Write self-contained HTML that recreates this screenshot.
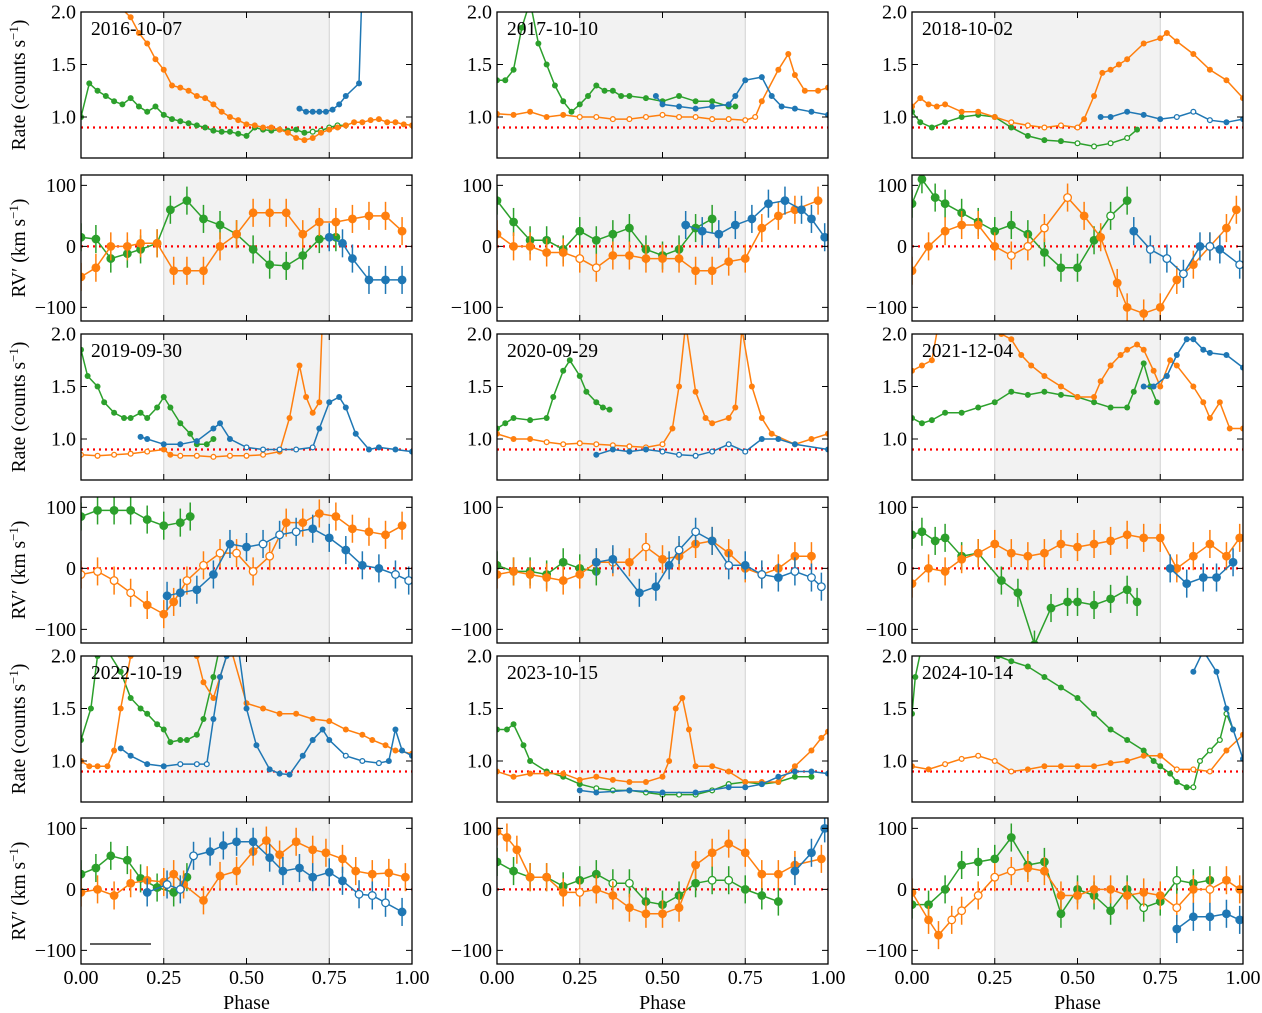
<!DOCTYPE html>
<html><head><meta charset="utf-8"><style>
html,body{margin:0;padding:0;background:#fff;}
svg{display:block;font-family:"Liberation Serif","DejaVu Serif",serif;}
</style></head><body>
<svg id="fig" width="1262" height="1013" viewBox="0 0 1262 1013" xmlns="http://www.w3.org/2000/svg"></svg>
<script>
const dates = ["2016-10-07","2017-10-10","2018-10-02","2019-09-30","2020-09-29","2021-12-04","2022-10-19","2023-10-15","2024-10-14"];

const rate0_g = [[0,1.0],[0.025,1.32],[0.05,1.25],[0.075,1.2],[0.1,1.15],[0.125,1.12],[0.15,1.18],[0.175,1.1],[0.2,1.05],[0.225,1.1],[0.25,1.02],[0.275,0.98],[0.3,0.96],[0.325,0.94],[0.35,0.92],[0.375,0.9],[0.4,0.87],[0.425,0.86],[0.45,0.86],[0.475,0.84],[0.5,0.82],[0.525,0.9],[0.55,0.88],[0.575,0.87],[0.6,0.88],[0.625,0.87],[0.65,0.88],[0.675,0.85],[0.7,0.86],[0.725,0.87],[0.75,0.9],[0.775,0.92],[0.8,0.92]];
const rate0_o = [[0.1,2.1],[0.15,1.95],[0.175,1.8],[0.2,1.7],[0.225,1.55],[0.25,1.45],[0.275,1.3],[0.3,1.28],[0.325,1.25],[0.35,1.2],[0.375,1.18],[0.4,1.12],[0.425,1.05],[0.45,1.0],[0.475,0.97],[0.5,0.93],[0.525,0.92],[0.55,0.9],[0.575,0.9],[0.6,0.88],[0.625,0.85],[0.65,0.8],[0.675,0.78],[0.7,0.8],[0.725,0.85],[0.75,0.88],[0.775,0.9],[0.8,0.92],[0.825,0.95],[0.85,0.95],[0.875,0.97],[0.9,0.98],[0.925,0.95],[0.95,0.95],[0.975,0.93],[1.0,0.92]];
const rate0_b = [[0.66,1.08],[0.68,1.05],[0.7,1.05],[0.72,1.05],[0.74,1.05],[0.76,1.07],[0.78,1.12],[0.8,1.2],[0.84,1.32],[0.85,2.3]];
const rv0_g = [[0,15],[0.045,12],[0.09,-20],[0.14,-12],[0.18,-5],[0.23,5],[0.27,60],[0.32,75],[0.37,45],[0.42,35],[0.47,20],[0.52,-5],[0.57,-30],[0.62,-32],[0.67,-15],[0.72,12],[0.77,15]];
const rv0_o = [[0,-50],[0.045,-35],[0.09,0],[0.14,0],[0.18,5],[0.23,5],[0.28,-40],[0.32,-40],[0.37,-40],[0.42,0],[0.47,20],[0.52,55],[0.57,55],[0.62,55],[0.67,20],[0.72,40],[0.77,40],[0.82,45],[0.87,50],[0.92,50],[0.97,25]];
const rv0_b = [[0.75,15],[0.79,5],[0.82,-20],[0.87,-55],[0.92,-55],[0.97,-55]];

const rate1_g = [[0,1.35],[0.025,1.35],[0.05,1.45],[0.075,1.85],[0.1,2.1],[0.125,1.7],[0.15,1.5],[0.175,1.3],[0.2,1.15],[0.225,1.05],[0.25,1.12],[0.275,1.2],[0.3,1.3],[0.325,1.25],[0.35,1.25],[0.375,1.2],[0.4,1.2],[0.45,1.18],[0.5,1.15],[0.55,1.2],[0.6,1.15],[0.65,1.15],[0.7,1.1],[0.72,1.1]];
const rate1_o = [[0,1.03],[0.05,1.02],[0.1,1.05],[0.15,1.0],[0.2,1.02],[0.25,1.0],[0.3,1.0],[0.35,0.98],[0.4,0.98],[0.45,1.0],[0.5,1.02],[0.55,1.0],[0.6,1.0],[0.65,0.98],[0.7,0.98],[0.75,0.97],[0.78,1.0],[0.8,1.15],[0.85,1.45],[0.88,1.6],[0.9,1.4],[0.93,1.25],[0.97,1.25],[1.0,1.28]];
const rate1_b = [[0.48,1.2],[0.5,1.12],[0.55,1.1],[0.6,1.08],[0.65,1.1],[0.7,1.12],[0.72,1.2],[0.75,1.35],[0.8,1.38],[0.83,1.2],[0.86,1.1],[0.9,1.08],[0.95,1.05],[1.0,1.02]];
const rv1_g = [[0,75],[0.05,40],[0.1,10],[0.15,10],[0.2,-5],[0.25,25],[0.3,10],[0.35,20],[0.4,30],[0.45,-5],[0.5,-15],[0.55,-5],[0.6,30],[0.65,45]];
const rv1_o = [[0,20],[0.05,0],[0.1,0],[0.15,-10],[0.2,-10],[0.25,-20],[0.3,-35],[0.35,-15],[0.4,-15],[0.45,-20],[0.5,-20],[0.55,-20],[0.6,-40],[0.65,-40],[0.7,-25],[0.75,-20],[0.8,30],[0.85,50],[0.9,60],[0.97,75]];
const rv1_b = [[0.57,35],[0.62,25],[0.67,20],[0.72,35],[0.77,45],[0.82,70],[0.87,75],[0.92,60],[0.95,45],[0.99,15]];

const rate2_o = [[0,1.1],[0.025,1.18],[0.05,1.12],[0.075,1.1],[0.1,1.12],[0.15,1.05],[0.2,1.05],[0.25,1.0],[0.3,0.95],[0.35,0.92],[0.4,0.9],[0.45,0.92],[0.5,0.9],[0.52,0.98],[0.55,1.2],[0.575,1.42],[0.6,1.45],[0.625,1.5],[0.65,1.55],[0.7,1.7],[0.75,1.75],[0.77,1.8],[0.8,1.72],[0.85,1.6],[0.9,1.45],[0.95,1.35],[1.0,1.18]];
const rate2_g = [[0,1.05],[0.025,0.95],[0.06,0.9],[0.1,0.95],[0.15,1.0],[0.2,1.02],[0.25,1.0],[0.3,0.9],[0.35,0.82],[0.4,0.78],[0.45,0.77],[0.5,0.75],[0.55,0.72],[0.6,0.75],[0.65,0.8],[0.68,0.88]];
const rate2_b = [[0.57,1.0],[0.6,1.0],[0.65,1.05],[0.7,1.02],[0.75,0.98],[0.8,1.0],[0.85,1.05],[0.9,0.97],[0.95,0.95],[1.0,0.98]];
const rv2_g = [[0,70],[0.03,110],[0.07,80],[0.1,70],[0.15,55],[0.2,40],[0.25,25],[0.3,35],[0.35,20],[0.4,-10],[0.45,-35],[0.5,-35],[0.55,10],[0.6,50],[0.65,75]];
const rv2_o = [[0,-40],[0.05,0],[0.1,25],[0.15,35],[0.2,35],[0.25,0],[0.3,-15],[0.35,0],[0.4,30],[0.47,80],[0.52,50],[0.57,15],[0.62,-60],[0.65,-100],[0.7,-110],[0.75,-100],[0.8,-55],[0.85,-30],[0.9,0],[0.95,30],[0.98,60]];
const rv2_b = [[0.67,25],[0.72,-5],[0.77,-20],[0.82,-45],[0.87,0],[0.9,0],[0.93,-5],[0.99,-30]];

const rate3_g = [[0,1.85],[0.02,1.6],[0.05,1.5],[0.07,1.35],[0.1,1.25],[0.13,1.2],[0.15,1.2],[0.18,1.25],[0.2,1.2],[0.23,1.3],[0.25,1.4],[0.27,1.3],[0.3,1.15],[0.33,1.05],[0.35,0.95],[0.38,0.95],[0.4,1.0]];
const rate3_o = [[0,0.85],[0.05,0.84],[0.1,0.85],[0.15,0.86],[0.2,0.88],[0.25,0.9],[0.27,0.85],[0.3,0.84],[0.35,0.84],[0.4,0.83],[0.45,0.84],[0.5,0.84],[0.55,0.85],[0.6,0.88],[0.63,1.2],[0.66,1.7],[0.68,1.4],[0.7,1.25],[0.72,1.35],[0.73,2.2]];
const rate3_b = [[0.18,1.02],[0.2,1.0],[0.25,0.95],[0.3,0.95],[0.35,0.98],[0.4,1.1],[0.42,1.15],[0.45,1.0],[0.5,0.92],[0.55,0.9],[0.6,0.9],[0.65,0.9],[0.7,0.92],[0.72,1.1],[0.75,1.35],[0.78,1.4],[0.8,1.3],[0.83,1.05],[0.87,0.9],[0.9,0.92],[0.95,0.9],[1.0,0.88]];
const rv3_g = [[0,85],[0.05,95],[0.1,95],[0.15,95],[0.2,80],[0.25,70],[0.3,75],[0.33,85]];
const rv3_o = [[0,-10],[0.05,-5],[0.1,-20],[0.15,-40],[0.2,-60],[0.25,-75],[0.28,-55],[0.32,-20],[0.37,5],[0.42,25],[0.47,25],[0.52,-5],[0.57,20],[0.62,75],[0.67,75],[0.72,90],[0.77,85],[0.82,65],[0.87,60],[0.92,55],[0.97,70]];
const rv3_b = [[0.26,-45],[0.3,-40],[0.35,-35],[0.4,-10],[0.45,40],[0.5,35],[0.55,40],[0.6,55],[0.65,60],[0.7,65],[0.75,50],[0.8,30],[0.85,5],[0.9,0],[0.95,-10],[0.99,-20]];

const rate4_g = [[0,1.1],[0.025,1.15],[0.05,1.2],[0.1,1.18],[0.15,1.2],[0.17,1.4],[0.2,1.65],[0.22,1.75],[0.25,1.6],[0.27,1.45],[0.3,1.35],[0.32,1.3],[0.34,1.28]];
const rate4_o = [[0,1.05],[0.05,1.0],[0.1,1.0],[0.15,0.97],[0.2,0.95],[0.25,0.96],[0.3,0.95],[0.35,0.94],[0.4,0.93],[0.45,0.92],[0.5,0.95],[0.53,1.1],[0.55,1.5],[0.57,2.1],[0.6,1.45],[0.63,1.2],[0.65,1.15],[0.7,1.2],[0.72,1.3],[0.74,2.05],[0.77,1.5],[0.8,1.2],[0.83,1.05],[0.9,0.95],[0.95,1.0],[1.0,1.05]];
const rate4_b = [[0.3,0.85],[0.35,0.9],[0.4,0.88],[0.45,0.9],[0.5,0.88],[0.55,0.85],[0.6,0.84],[0.65,0.88],[0.7,0.95],[0.75,0.88],[0.8,1.0],[0.85,1.0],[0.9,0.95],[1.0,0.9]];
const rv4_g = [[0,5],[0.05,-5],[0.1,-5],[0.15,-10],[0.2,10],[0.25,0],[0.3,-5]];
const rv4_o = [[0,-10],[0.05,-5],[0.1,-10],[0.15,-15],[0.2,-20],[0.25,-10],[0.3,10],[0.35,10],[0.4,10],[0.45,35],[0.5,15],[0.55,20],[0.6,40],[0.65,45],[0.7,25],[0.75,0],[0.8,-10],[0.85,0],[0.9,20],[0.95,20]];
const rv4_b = [[0.3,10],[0.35,15],[0.43,-40],[0.48,-30],[0.52,5],[0.55,30],[0.6,60],[0.65,45],[0.7,5],[0.75,5],[0.8,-10],[0.85,-15],[0.9,-5],[0.95,-15],[0.98,-30]];

const rate5_o = [[0,1.65],[0.03,1.7],[0.06,1.75],[0.08,2.1],[0.27,2.0],[0.3,1.95],[0.33,1.8],[0.36,1.7],[0.4,1.6],[0.45,1.5],[0.5,1.4],[0.55,1.4],[0.57,1.55],[0.6,1.7],[0.63,1.8],[0.65,1.85],[0.68,1.9],[0.7,1.85],[0.73,1.65],[0.75,1.5],[0.78,1.75],[0.8,1.7],[0.85,1.5],[0.88,1.35],[0.9,1.2],[0.93,1.35],[0.96,1.1],[1.0,1.1]];
const rate5_g = [[0,1.2],[0.03,1.15],[0.06,1.18],[0.1,1.25],[0.15,1.25],[0.2,1.3],[0.25,1.35],[0.3,1.45],[0.35,1.42],[0.4,1.45],[0.45,1.42],[0.5,1.4],[0.55,1.35],[0.6,1.3],[0.65,1.3],[0.67,1.45],[0.7,1.72],[0.72,1.5],[0.74,1.35]];
const rate5_b = [[0.7,1.5],[0.73,1.5],[0.77,1.6],[0.8,1.8],[0.83,1.95],[0.85,1.95],[0.88,1.85],[0.9,1.82],[0.95,1.8],[1.0,1.68]];
const rv5_g = [[0,55],[0.03,60],[0.07,45],[0.1,50],[0.15,20],[0.2,25],[0.27,-20],[0.32,-40],[0.37,-125],[0.42,-65],[0.47,-55],[0.5,-55],[0.55,-60],[0.6,-50],[0.65,-35],[0.68,-55]];
const rv5_o = [[0,-25],[0.05,0],[0.1,-5],[0.15,15],[0.2,25],[0.25,40],[0.3,25],[0.35,20],[0.4,25],[0.45,40],[0.5,35],[0.55,40],[0.6,45],[0.65,55],[0.7,50],[0.75,50],[0.8,0],[0.85,20],[0.9,40],[0.95,20],[0.99,50]];
const rv5_b = [[0.78,0],[0.83,-25],[0.88,-15],[0.92,-15],[0.97,10]];

const rate6_g = [[0,1.2],[0.03,1.5],[0.05,2.0],[0.07,2.1],[0.12,1.85],[0.15,1.6],[0.18,1.5],[0.2,1.45],[0.23,1.35],[0.25,1.3],[0.27,1.18],[0.3,1.2],[0.32,1.2],[0.35,1.25],[0.37,1.4],[0.4,1.8],[0.42,2.1]];
const rate6_o = [[0,1.0],[0.025,0.95],[0.05,0.95],[0.08,0.95],[0.1,1.1],[0.12,1.5],[0.15,2.0],[0.17,2.1],[0.33,2.1],[0.35,2.0],[0.37,1.75],[0.4,1.6],[0.42,1.8],[0.45,2.1],[0.5,1.55],[0.55,1.5],[0.6,1.45],[0.65,1.45],[0.7,1.4],[0.75,1.38],[0.8,1.3],[0.85,1.25],[0.88,1.2],[0.92,1.15],[0.95,1.1],[1.0,1.07]];
const rate6_b = [[0.12,1.12],[0.15,1.05],[0.2,0.97],[0.25,0.95],[0.3,0.97],[0.35,0.97],[0.38,0.97],[0.4,1.4],[0.42,1.8],[0.44,2.0],[0.47,2.2],[0.5,1.5],[0.53,1.15],[0.57,0.92],[0.6,0.88],[0.63,0.87],[0.67,1.05],[0.7,1.2],[0.73,1.3],[0.75,1.2],[0.8,1.05],[0.85,1.0],[0.9,0.98],[0.93,1.0],[0.95,1.3],[0.97,1.1],[1.0,1.05]];
const rv6_g = [[0,25],[0.045,35],[0.09,55],[0.14,48],[0.18,18],[0.23,3],[0.28,-5],[0.32,20]];
const rv6_o = [[0,-5],[0.05,0],[0.1,-10],[0.15,10],[0.2,15],[0.25,12],[0.28,25],[0.31,8],[0.37,-18],[0.42,22],[0.47,30],[0.52,62],[0.56,80],[0.6,57],[0.65,78],[0.7,65],[0.74,60],[0.79,50],[0.83,30],[0.88,25],[0.93,27],[0.98,20]];
const rv6_b = [[0.2,-5],[0.26,8],[0.3,0],[0.34,55],[0.39,62],[0.43,72],[0.47,78],[0.52,78],[0.57,52],[0.61,30],[0.66,35],[0.7,20],[0.75,28],[0.79,14],[0.84,-8],[0.88,-10],[0.92,-22],[0.97,-37]];

const rate7_g = [[0,1.3],[0.03,1.3],[0.05,1.35],[0.08,1.15],[0.1,1.0],[0.15,0.9],[0.2,0.85],[0.25,0.78],[0.3,0.74],[0.35,0.72],[0.4,0.72],[0.45,0.7],[0.5,0.68],[0.55,0.68],[0.6,0.68],[0.65,0.72],[0.7,0.78],[0.75,0.8],[0.8,0.78],[0.85,0.8],[0.9,0.85],[0.95,0.85]];
const rate7_o = [[0,0.9],[0.05,0.85],[0.1,0.88],[0.15,0.88],[0.2,0.88],[0.25,0.82],[0.3,0.85],[0.35,0.82],[0.4,0.8],[0.45,0.8],[0.5,0.85],[0.52,1.0],[0.54,1.5],[0.56,1.6],[0.58,1.3],[0.6,0.95],[0.65,0.95],[0.7,0.9],[0.75,0.8],[0.8,0.8],[0.85,0.8],[0.9,0.95],[0.95,1.1],[0.98,1.22],[1.0,1.28]];
const rate7_b = [[0.25,0.72],[0.3,0.7],[0.4,0.72],[0.5,0.7],[0.6,0.7],[0.7,0.75],[0.75,0.75],[0.8,0.78],[0.85,0.85],[0.9,0.9],[0.95,0.9],[1.0,0.88]];
const rv7_o = [[0,95],[0.03,85],[0.06,65],[0.1,20],[0.15,20],[0.2,-5],[0.25,-5],[0.3,0],[0.35,-10],[0.4,-30],[0.45,-40],[0.5,-40],[0.55,-30],[0.6,40],[0.65,60],[0.7,75],[0.75,60],[0.8,25],[0.85,25],[0.9,40],[0.98,50]];
const rv7_g = [[0,45],[0.05,30],[0.1,20],[0.15,20],[0.2,5],[0.25,15],[0.3,25],[0.35,10],[0.4,10],[0.45,-20],[0.5,-25],[0.55,-10],[0.6,10],[0.65,15],[0.7,15],[0.75,0],[0.8,-10],[0.85,-20]];
const rv7_b = [[0.9,30],[0.95,60],[0.99,100]];

const rate8_g = [[0,1.45],[0.01,1.8],[0.03,2.1],[0.26,2.0],[0.3,1.95],[0.35,1.9],[0.4,1.8],[0.45,1.7],[0.5,1.6],[0.55,1.45],[0.6,1.3],[0.65,1.2],[0.7,1.1],[0.73,1.0],[0.75,0.95],[0.78,0.88],[0.8,0.8],[0.83,0.75],[0.85,0.75],[0.87,1.0],[0.9,1.1],[0.93,1.2],[0.95,1.45],[0.97,1.3]];
const rate8_b = [[0.85,1.85],[0.88,2.05],[0.92,1.85],[0.95,1.5],[0.97,1.3],[1.0,1.02]];
const rate8_o = [[0,0.95],[0.05,0.92],[0.1,0.97],[0.15,1.02],[0.2,1.05],[0.25,1.0],[0.3,0.9],[0.35,0.92],[0.4,0.95],[0.45,0.95],[0.5,0.95],[0.55,0.95],[0.6,0.98],[0.65,1.0],[0.7,1.05],[0.75,1.05],[0.8,0.92],[0.85,0.92],[0.9,0.9],[0.95,1.1],[1.0,1.25]];
const rv8_g = [[0,-25],[0.05,-25],[0.1,0],[0.15,40],[0.2,45],[0.25,50],[0.3,85],[0.35,40],[0.4,45],[0.45,-40],[0.5,0],[0.55,-10],[0.6,-35],[0.65,0],[0.7,-30],[0.75,-20],[0.8,15],[0.85,10],[0.9,15]];
const rv8_o = [[0,-5],[0.05,-50],[0.08,-75],[0.12,-50],[0.15,-35],[0.2,-10],[0.25,20],[0.3,30],[0.35,35],[0.4,30],[0.45,-10],[0.5,-10],[0.55,0],[0.6,0],[0.65,-10],[0.7,-5],[0.75,-10],[0.8,-30],[0.85,0],[0.9,0],[0.95,15],[0.99,0]];
const rv8_b = [[0.8,-65],[0.85,-45],[0.9,-45],[0.95,-40],[0.99,-50]];

const hol = {
 rate0_g:[[0.7,0.8]], rate1_o:[[0.25,0.78]], rate2_o:[[0.3,0.5]], rate2_g:[[0.5,0.65]], rate2_b:[[0.77,0.9]],
 rate3_o:[[0,0.2],[0.3,0.55]], rate3_b:[[0.5,0.7]], rate4_o:[[0.15,0.5]], rate4_b:[[0.5,0.75]],
 rate6_b:[[0.3,0.38],[0.8,0.9]], rate7_g:[[0.27,0.5],[0.55,0.7]], rate8_o:[[0.1,0.3],[0.8,0.9]], rate8_g:[[0.85,0.95]],
 rv1_o:[[0.25,0.3]], rv2_g:[[0.6,0.6]], rv2_o:[[0.3,0.47]], rv2_b:[[0.72,0.82],[0.9,0.9],[0.99,0.99]],
 rv3_o:[[0,0.15],[0.32,0.57]], rv3_b:[[0.55,0.65],[0.95,0.99]], rv4_o:[[0.3,0.35],[0.45,0.45]], rv4_b:[[0.55,0.6],[0.7,0.7],[0.8,0.8],[0.9,0.98]],
 rv6_b:[[0.26,0.34],[0.84,0.92]], rv7_o:[[0.25,0.25]], rv7_g:[[0.35,0.4],[0.65,0.7]], rv8_o:[[0.12,0.3],[0.8,0.8],[0.9,0.9]], rv8_g:[[0.7,0.7],[0.8,0.8]]
};

const rateTicks = [1.0,1.5,2.0];
const rvTicks = [-100,0,100];
const phaseTicks = [0,0.25,0.5,0.75,1.0];
const phaseLabels = ["0.00","0.25","0.50","0.75","1.00"];

const NS="http://www.w3.org/2000/svg";
const svg=document.getElementById('fig');
const COLX=[81,497,912], W=331, H=146;
const RATE_TOP=[12,334,656], RV_TOP=[175,497,818];
const C={g:'#2ca02c',o:'#ff7f0e',b:'#1f77b4'};
function el(tag,attrs,parent){const e=document.createElementNS(NS,tag);for(const k in attrs)e.setAttribute(k,attrs[k]);(parent||svg).appendChild(e);return e;}
function isHollow(name,x){const r=hol[name];if(!r)return false;return r.some(a=>x>=a[0]-0.001&&x<=a[1]+0.001);}

function panel(i,kind){
  const col=i%3,row=Math.floor(i/3);
  const x0=COLX[col], top=kind==='rate'?RATE_TOP[row]:RV_TOP[row];
  const sx=p=>x0+p*W;
  const sy=kind==='rate'?(v=>top+(2.0-v)*105):(v=>top+(117-v)*0.61);
  const g=el('g',{});
  
  
  const cid='c'+kind+i;
  const cp=el('clipPath',{id:cid},g);el('rect',{x:x0,y:top,width:W,height:H},cp);
  const sh=el('rect',{x:sx(0.25),y:top,width:sx(0.75)-sx(0.25),height:H,fill:'#f2f2f2'},g);
  
  
  el('line',{x1:sx(0.25),x2:sx(0.25),y1:top,y2:top+H,stroke:'#d0d0d0','stroke-width':1},g);
  el('line',{x1:sx(0.75),x2:sx(0.75),y1:top,y2:top+H,stroke:'#d0d0d0','stroke-width':1},g);
  const refv=kind==='rate'?0.9:0;
  const rl=el('line',{x1:x0,x2:x0+W,y1:sy(refv),y2:sy(refv),stroke:'#ff0000','stroke-width':2.2,'stroke-dasharray':'2,4'},g);
  
  
  const dg=el('g',{'clip-path':'url(#'+cid+')'},g);
  ['g','o','b'].forEach(s=>{
    const name=kind+i+'_'+s;
    let data=null;try{data=eval(name);}catch(e){data=null;}
    if(!data)return;
    const sg=el('g',{},dg);
    
    
    const pts=data.map(d=>sx(d[0]).toFixed(1)+','+sy(d[1]).toFixed(1)).join(' ');
    el('polyline',{points:pts,fill:'none',stroke:C[s],'stroke-width':1.5},sg);
    const r=kind==='rate'?3:4.4;
    data.forEach(d=>{
      if(kind==='rv'){
        el('line',{x1:sx(d[0]),x2:sx(d[0]),y1:sy(d[1]+23),y2:sy(d[1]-23),stroke:C[s],'stroke-width':1.5},sg);
      }
      const h=isHollow(name,d[0]);
      const m=el('circle',{cx:sx(d[0]),cy:sy(d[1]),r:h?r-0.6:r,fill:h?'#fff':C[s],stroke:C[s],'stroke-width':h?1.3:0},sg);
      
      
    });
  });
  el('rect',{x:x0,y:top,width:W,height:H,fill:'none',stroke:'#000','stroke-width':1.3},g);
  phaseTicks.forEach(p=>{
    el('line',{x1:sx(p),x2:sx(p),y1:top+H,y2:top+H-6,stroke:'#000','stroke-width':1},g);
    el('line',{x1:sx(p),x2:sx(p),y1:top,y2:top+6,stroke:'#000','stroke-width':1},g);
  });
  const ticks=kind==='rate'?rateTicks:rvTicks;
  ticks.forEach(v=>{
    el('line',{x1:x0,x2:x0+6,y1:sy(v),y2:sy(v),stroke:'#000','stroke-width':1},g);
    el('line',{x1:x0+W,x2:x0+W-6,y1:sy(v),y2:sy(v),stroke:'#000','stroke-width':1},g);
    const t=el('text',{x:x0-5,y:sy(v)+6.5,'text-anchor':'end','font-size':20},g);
    t.textContent=kind==='rate'?v.toFixed(1):(v<0?'\u2212'+(-v):String(v));
    
    
  });
  if(kind==='rate'){
    const t=el('text',{x:x0+10,y:top+23,'font-size':19.5},g);t.textContent=dates[i];
    
    
  }
  if(col===0){
    const cy=top+H/2;
    const t=el('text',{x:0,y:0,'text-anchor':'middle','font-size':19.5,transform:'translate(25,'+cy+') rotate(-90)'},g);
    if(kind==='rate'){t.innerHTML='Rate (counts s<tspan dy="-7" font-size="13">\u22121</tspan><tspan dy="7">)</tspan>';}
    else{t.innerHTML='RV\u2032 (km s<tspan dy="-7" font-size="13">\u22121</tspan><tspan dy="7">)</tspan>';}
    
    
  }
  if(kind==='rv'&&row===2){
    phaseTicks.forEach((p,k)=>{
      const t=el('text',{x:sx(p),y:top+H+20,'text-anchor':'middle','font-size':20},g);t.textContent=phaseLabels[k];
      
      
    });
    const t=el('text',{x:x0+W/2,y:top+H+45,'text-anchor':'middle','font-size':20},g);t.textContent='Phase';
    
    
  }
}
for(let i=0;i<9;i++){panel(i,'rate');panel(i,'rv');}
const sb=el('line',{x1:90,x2:151,y1:944,y2:944,stroke:'#000','stroke-width':1.3});


</script>
</body></html>
